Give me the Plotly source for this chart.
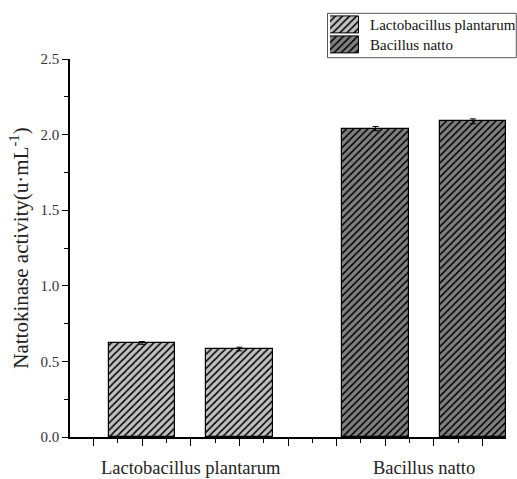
import plotly.graph_objects as go

# ---- data ----
groups = ["Lactobacillus plantarum", "Bacillus natto"]
bar_pos = [1.0, 3.0, 5.8, 7.8]
bar_vals = [0.622, 0.582, 2.040, 2.088]
bar_err = [0.009, 0.012, 0.014, 0.016]
bar_group = [0, 0, 1, 1]
fills = ["#c0c0c0", "#808080"]
yticks = [0.0, 0.5, 1.0, 1.5, 2.0, 2.5]

W, H = 517, 479
L, R, T, B = 70, 11, 10, 42
pw, ph = W - L - R, H - T - B
main_top = 59

def px2x(p):
    return (p - L) / pw

def px2y(q):
    return (H - B - q) / ph

font = "Liberation Serif, Times New Roman, serif"

fig = go.Figure()
for g in range(2):
    xs = [bar_pos[i] for i in range(4) if bar_group[i] == g]
    ys = [bar_vals[i] for i in range(4) if bar_group[i] == g]
    es = [bar_err[i] for i in range(4) if bar_group[i] == g]
    fig.add_trace(go.Bar(
        x=xs, y=ys, width=1.37, name=groups[g], showlegend=False,
        marker=dict(color=fills[g], line=dict(color="black", width=1.2),
                    pattern=dict(shape="/", fgcolor="black", bgcolor=fills[g],
                                 size=5, solidity=0.3, fillmode="replace")),
        error_y=dict(type="data", array=es, color="black", thickness=1, width=3),
        xaxis="x", yaxis="y",
    ))

# legend swatches (own small axes)
for g in range(2):
    fig.add_trace(go.Bar(
        x=[1], y=[1 - g], base=0, orientation="h", width=0.84, showlegend=False,
        marker=dict(color=fills[g], line=dict(color="black", width=1),
                    pattern=dict(shape="/", fgcolor="black", bgcolor=fills[g],
                                 size=5, solidity=0.3, fillmode="replace")),
        xaxis="x2", yaxis="y2", hoverinfo="skip",
    ))

fig.update_layout(
    width=W, height=H, margin=dict(l=L, r=R, t=T, b=B, autoexpand=False),
    paper_bgcolor="white", plot_bgcolor="white", bargap=0,
    font=dict(family=font, size=15, color="#222"),
    xaxis=dict(domain=[0, 1], range=[-0.48, 8.48], showgrid=False, zeroline=False,
               showline=True, linecolor="black", linewidth=1.5, automargin=False,
               tickmode="array", tickvals=list(range(9)), showticklabels=False,
               ticks="outside", ticklen=7, tickwidth=1, tickcolor="black",
               minor=dict(tickmode="array", tickvals=[i - 0.5 for i in range(10)],
                          ticks="outside", ticklen=4, tickwidth=1, tickcolor="black"),
               anchor="y"),
    yaxis=dict(domain=[0, px2y(main_top)], range=[0, 2.5], showgrid=False, zeroline=False,
               showline=True, linecolor="black", linewidth=1.5, automargin=False,
               tickmode="array", tickvals=yticks, ticktext=[f"{v:.1f}" for v in yticks],
               ticks="outside", ticklen=6, tickwidth=1, tickcolor="black",
               minor=dict(tickmode="array", tickvals=[0.25, 0.75, 1.25, 1.75, 2.25],
                          ticks="outside", ticklen=4, tickwidth=1, tickcolor="black"),
               title=dict(text="Nattokinase activity(u·mL<sup>-1</sup>)",
                          font=dict(family=font, size=21, color="#222"), standoff=6),
               tickfont=dict(family=font, size=15, color="#333"),
               anchor="x"),
    xaxis2=dict(domain=[px2x(330), px2x(359)], range=[0, 1], visible=False, anchor="y2",
                fixedrange=True, automargin=False),
    yaxis2=dict(domain=[px2y(54.8), px2y(14.4)], range=[-0.5, 1.5], visible=False,
                anchor="x2", fixedrange=True, automargin=False),
)

# group labels under axis
grp_centers = [(bar_pos[0] + bar_pos[1]) / 2, (bar_pos[2] + bar_pos[3]) / 2]
for g in range(2):
    fig.add_annotation(x=grp_centers[g], y=0, xref="x", yref="paper", text=groups[g],
                       showarrow=False, yanchor="middle", yshift=-31,
                       font=dict(family=font, size=18.5, color="#222"))

# legend texts and border
for g in range(2):
    fig.add_annotation(x=px2x(368), y=px2y(24.5 + 20.2 * g), xref="paper", yref="paper",
                       text=groups[g], showarrow=False, xanchor="left", yanchor="middle",
                       font=dict(family=font, size=15, color="#111"))
fig.add_shape(type="rect", xref="paper", yref="paper",
              x0=px2x(327.5), x1=px2x(516.3), y0=px2y(57.7), y1=px2y(13.3),
              line=dict(color="#555", width=1), fillcolor="rgba(0,0,0,0)", layer="below")

fig.write_html("out.html")
